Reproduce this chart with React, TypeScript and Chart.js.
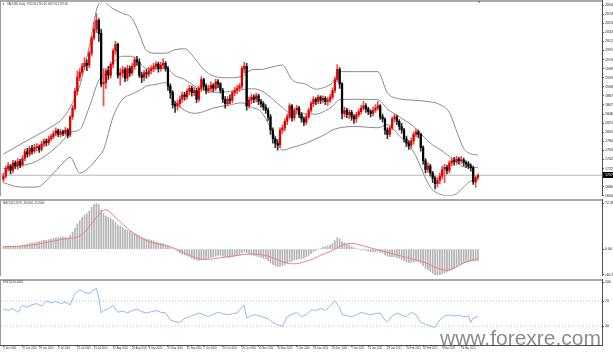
import React, { useEffect, useRef } from 'react';
import { Chart, registerables } from 'chart.js';

Chart.register(...registerables);

const FONT = '"Liberation Sans", Arial, sans-serif';
Chart.defaults.font.family = FONT;

// ---------- price data (XAUUSD daily) ----------
const opens = [
  1698,1705,1722,1728,1718,1735,1728,1738,1731,1745,
  1760,1755,1768,1762,1770,1771,1766,1778,1785,1781,
  1790,1795,1802,1808,1800,1806,1803,1810,1798,1840,
  1860,1898,1930,1942,1955,1962,1958,1985,2020,2040,
  2060,2030,1915,1918,1945,1935,1960,1990,2005,1935,
  1940,1947,1928,1950,1940,1955,1970,1965,1935,1930,
  1940,1938,1945,1950,1955,1960,1950,1958,1962,1950,
  1910,1895,1868,1865,1870,1880,1890,1886,1898,1905,
  1895,1900,1880,1905,1925,1910,1900,1905,1912,1905,
  1920,1915,1900,1880,1870,1880,1878,1895,1900,1905,
  1910,1950,1955,1865,1878,1885,1880,1888,1875,1870,
  1862,1855,1840,1810,1790,1780,1776,1810,1815,1830,
  1840,1865,1838,1855,1860,1845,1835,1828,1840,1855,
  1870,1880,1875,1885,1878,1882,1875,1878,1885,1900,
  1925,1948,1915,1848,1855,1845,1850,1840,1835,1845,
  1852,1860,1865,1858,1852,1848,1855,1860,1865,1840,
  1835,1810,1800,1815,1835,1840,1830,1818,1810,1790,
  1780,1775,1785,1800,1806,1800,1770,1740,1720,1728,
  1712,1700,1688,1695,1705,1720,1725,1718,1735,1740,
  1738,1744,1740,1742,1736,1733,1728,1724,1692,1702,
];
const highs = [
  1712,1728,1736,1732,1741,1740,1745,1743,1752,1766,
  1768,1773,1775,1778,1779,1776,1785,1790,1790,1796,
  1800,1808,1815,1812,1811,1810,1816,1813,1843,1866,
  1905,1944,1950,1962,1975,1970,1990,2024,2056,2075,
  2064,2040,1950,1950,1955,1965,1995,2012,2008,1950,
  1955,1952,1958,1956,1962,1976,1978,1972,1942,1946,
  1948,1953,1957,1962,1966,1965,1964,1972,1966,1955,
  1915,1900,1875,1878,1888,1897,1896,1904,1912,1910,
  1907,1905,1910,1932,1928,1915,1912,1920,1916,1926,
  1925,1918,1905,1886,1886,1890,1900,1907,1912,1916,
  1955,1965,1962,1885,1892,1890,1894,1892,1880,1875,
  1868,1860,1845,1815,1795,1788,1815,1822,1836,1846,
  1870,1868,1860,1866,1864,1850,1840,1846,1860,1875,
  1886,1884,1890,1888,1888,1886,1884,1892,1906,1930,
  1959,1952,1918,1862,1860,1856,1855,1845,1850,1858,
  1866,1875,1870,1862,1856,1862,1868,1875,1868,1846,
  1838,1815,1820,1840,1846,1844,1834,1825,1814,1796,
  1786,1792,1806,1812,1810,1803,1774,1745,1735,1732,
  1716,1705,1702,1712,1728,1732,1730,1740,1746,1748,
  1750,1748,1750,1746,1740,1738,1733,1728,1705,1710,
];
const lows = [
  1692,1700,1716,1710,1712,1722,1720,1724,1727,1740,
  1748,1750,1755,1757,1763,1759,1762,1772,1774,1776,
  1785,1790,1797,1795,1794,1797,1798,1792,1795,1834,
  1856,1890,1922,1935,1948,1945,1952,1978,2015,2032,
  2012,1908,1865,1905,1925,1928,1952,1982,1928,1912,
  1930,1920,1922,1932,1935,1948,1957,1930,1918,1922,
  1928,1932,1938,1943,1948,1942,1944,1950,1944,1900,
  1882,1860,1850,1855,1862,1873,1878,1880,1890,1887,
  1888,1872,1875,1898,1902,1892,1895,1898,1897,1900,
  1906,1894,1872,1860,1865,1870,1872,1888,1893,1898,
  1905,1940,1855,1860,1870,1872,1874,1868,1862,1855,
  1848,1832,1800,1780,1770,1764,1770,1802,1808,1822,
  1835,1830,1832,1848,1838,1828,1820,1822,1835,1850,
  1863,1868,1870,1870,1872,1868,1866,1872,1880,1895,
  1920,1905,1835,1840,1838,1836,1832,1825,1828,1840,
  1846,1855,1850,1845,1840,1842,1850,1855,1834,1828,
  1800,1790,1795,1810,1828,1822,1810,1802,1782,1772,
  1766,1768,1778,1795,1792,1762,1732,1712,1714,1705,
  1690,1676,1680,1688,1698,1690,1710,1712,1728,1730,
  1732,1733,1734,1728,1725,1722,1716,1686,1680,1697,
];
const closes = [
  1705,1722,1728,1718,1735,1728,1738,1731,1745,1760,
  1755,1768,1762,1770,1771,1766,1778,1785,1781,1790,
  1795,1802,1808,1800,1806,1803,1810,1798,1840,1860,
  1898,1930,1942,1955,1962,1958,1985,2020,2040,2060,
  2030,1915,1918,1945,1935,1960,1990,2005,1935,1940,
  1947,1928,1950,1940,1955,1970,1965,1935,1930,1940,
  1938,1945,1950,1955,1960,1950,1958,1962,1950,1910,
  1895,1868,1865,1870,1880,1890,1886,1898,1905,1895,
  1900,1880,1905,1925,1910,1900,1905,1912,1905,1920,
  1915,1900,1880,1870,1880,1878,1895,1900,1905,1910,
  1950,1955,1865,1878,1885,1880,1888,1875,1870,1862,
  1855,1840,1810,1790,1780,1776,1810,1815,1830,1840,
  1865,1838,1855,1860,1845,1835,1828,1840,1855,1870,
  1880,1875,1885,1878,1882,1875,1878,1885,1900,1925,
  1948,1915,1848,1855,1845,1850,1840,1835,1845,1852,
  1860,1865,1858,1852,1848,1855,1860,1865,1840,1835,
  1810,1800,1815,1835,1840,1830,1818,1810,1790,1780,
  1775,1785,1800,1806,1800,1770,1740,1720,1728,1712,
  1700,1688,1695,1705,1720,1725,1718,1735,1740,1738,
  1744,1740,1742,1736,1733,1728,1724,1692,1702,1707,
];

// ---------- Bollinger bands (read points) ----------
const bandIdx = [
  0,7,14,20,25,28,32,36,40,42,
  46,50,54,57,60,64,68,72,76,80,
  84,88,94,100,104,108,113,117,121,127,
  131,135,138,141,148,157,161,166,172,179,
  183,187,190,193,196,199,
];
const bandUpper = [
  1755,1777,1798,1817,1837,1862,1910,2000,2097,2101,
  2086,2076,2064,2029,1991,1985,1985,1993,1995,1975,
  1948,1933,1929,1932,1947,1948,1954,1958,1925,1914,
  1903,1908,1918,1943,1943,1943,1895,1881,1878,1874,
  1868,1850,1808,1768,1756,1753,
];
const bandMiddle = [
  1722,1728,1739,1761,1786,1805,1811,1862,1923,1933,
  1963,1978,1978,1964,1950,1950,1951,1934,1925,1911,
  1900,1896,1897,1902,1904,1900,1880,1861,1847,1847,
  1846,1854,1864,1879,1880,1879,1858,1840,1818,1780,
  1766,1750,1737,1726,1725,1724,
];
const bandLower = [
  1690,1680,1680,1706,1735,1748,1712,1725,1750,1765,
  1840,1880,1892,1900,1910,1914,1918,1875,1855,1848,
  1852,1860,1866,1872,1862,1852,1805,1764,1770,1780,
  1790,1800,1810,1815,1818,1815,1822,1797,1760,1680,
  1664,1660,1665,1680,1694,1696,
];

// ---------- MACD(12,26,9) ----------
const macdHist = [
  4,4,5,5,4,5,5,5,6,7,
  8,9,10,10,11,12,13,14,14,15,
  16,17,18,18,19,19,19,18,22,27,
  33,40,45,50,54,56,60,66,70,72,
  70,62,56,52,50,48,46,42,38,36,
  34,31,30,28,26,25,23,21,19,17,
  16,15,14,13,11,10,9,8,7,5,
  3,1,0,-3,-6,-8,-9,-10,-12,-14,
  -16,-17,-18,-17,-16,-15,-14,-13,-12,-11,
  -10,-10,-11,-12,-13,-13,-12,-11,-10,-9,
  -6,-3,-6,-8,-9,-10,-11,-12,-13,-14,
  -15,-18,-21,-24,-26,-28,-27,-26,-24,-22,
  -20,-19,-17,-16,-15,-15,-14,-12,-10,-7,
  -4,-2,0,1,3,4,5,7,9,13,
  18,16,12,10,8,6,4,2,1,0,
  -1,-1,-2,-3,-4,-4,-4,-3,-5,-6,
  -9,-11,-12,-12,-12,-13,-14,-16,-18,-20,
  -21,-21,-20,-19,-20,-22,-26,-30,-32,-35,
  -38,-40,-41,-40,-39,-37,-36,-34,-32,-30,
  -27,-25,-24,-22,-21,-20,-19,-19,-19,-18,
];
const signalIdx = [
  0,8,16,24,28,31,34,37,40,43,
  47,54,61,68,72,77,82,86,90,94,
  98,102,106,110,114,118,122,126,130,134,
  138,142,146,150,154,158,162,166,170,174,
  178,182,186,190,194,199,
];
const signalVal = [
  4,5,9,15,17,19,27,40,54,62,
  50,27,12,6,1,-8,-15,-16,-14,-12,
  -10,-8,-8,-10,-15,-21,-23,-20,-15,-8,
  -2,6,9,6,2,-2,-6,-10,-14,-18,
  -23,-30,-33,-28,-20,-15,
];
const macdTicks = [72.3651, 0, -40.2735];
const macdTickLabels = ['72.3651', '0.00', '-40.2735'];

// ---------- RSI(14) ----------
const rsiIdx = [
  0,2,4,6,8,10,12,14,16,18,
  20,22,24,26,28,30,32,34,36,38,
  39,40,41,42,44,46,48,50,52,54,
  56,58,60,62,64,66,68,70,72,74,
  76,78,80,82,84,86,88,90,92,94,
  96,98,100,101,102,103,105,107,109,111,
  113,115,117,119,121,123,125,127,129,131,
  133,135,137,139,141,142,144,146,148,150,
  152,154,156,158,160,161,163,165,167,169,
  171,173,175,177,179,181,183,185,187,189,
  191,193,195,196,197,199,
];
const rsiVal = [
  57,55,58,52,63,60,64,66,62,70,
  67,69,66,68,64,82,88,84,82,88,
  90,75,51,55,58,63,52,54,51,55,
  57,53,51,53,55,52,51,40,37,36,
  42,45,48,51,48,45,49,52,50,48,
  50,51,60,63,43,45,48,47,44,42,
  36,32,30,45,49,52,45,48,56,55,
  58,55,62,70,60,48,47,45,48,52,
  50,48,50,51,40,37,46,51,48,45,
  52,48,36,33,30,28,40,46,48,46,
  47,45,46,36,43,45,
];
const rsiLevels = [70, 30];
const rsiTicks = [100, 70, 30];
const rsiTickLabels = ['100', '70', '30'];

// ---------- axes ----------
const priceTicks = [
  2094.8, 2074.1, 2053.4, 2032.7, 2012.0, 1991.3, 1970.6, 1949.9, 1929.2, 1908.5,
  1887.8, 1867.1, 1846.4, 1825.7, 1805.0, 1784.3, 1763.6, 1742.9, 1722.2, 1680.8, 1660.1,
];
const dateIdx = [
  0,8,15,23,31,38,46,54,61,69,77,84,92,100,107,115,123,130,138,146,153,161,169,176,184,192,
];
const dateLabels = [
  '5 Jun 2020','17 Jun 2020','29 Jun 2020','9 Jul 2020','21 Jul 2020','31 Jul 2020',
  '12 Aug 2020','24 Aug 2020','3 Sep 2020','15 Sep 2020','25 Sep 2020','7 Oct 2020',
  '19 Oct 2020','29 Oct 2020','10 Nov 2020','20 Nov 2020','2 Dec 2020','14 Dec 2020',
  '24 Dec 2020','7 Jan 2021','19 Jan 2021','29 Jan 2021','10 Feb 2021','22 Feb 2021',
  '4 Mar 2021','16 Mar 2021',
];

const X_MIN = -1;
const X_MAX = 251;
const CANVAS_W = 640;
const AXIS_W = 38;
const RED = '#e00000';
const BLACK = '#000000';

const N = closes.length;
const barIdx = closes.map((_, i) => i);

function dateAxis(show: boolean): any {
  return {
    type: 'linear',
    min: X_MIN,
    max: X_MAX,
    offset: false,
    display: show,
    afterBuildTicks: (s: any) => {
      s.ticks = dateIdx.map((v) => ({ value: v }));
    },
    afterFit: (s: any) => {
      s.height = show ? 8 : 0;
    },
    grid: { display: true, drawOnChartArea: false, drawTicks: true, tickLength: 2, color: '#777', offset: false },
    border: { display: false },
    ticks: {
      autoSkip: false,
      maxRotation: 0,
      minRotation: 0,
      align: 'start',
      padding: 0,
      color: '#333',
      font: { size: 2.6, family: FONT },
      callback: (_v: any, i: number) => dateLabels[i] ?? '',
    },
  };
}

function valueAxis(min: number, max: number, ticks: number[], labels: string[]): any {
  return {
    type: 'linear',
    position: 'right',
    min,
    max,
    afterBuildTicks: (s: any) => {
      s.ticks = ticks.map((v) => ({ value: v }));
    },
    afterFit: (s: any) => {
      s.width = AXIS_W;
    },
    grid: { display: true, drawOnChartArea: false, drawTicks: true, tickLength: 2, color: '#555' },
    border: { display: false },
    ticks: {
      autoSkip: false,
      padding: 1,
      color: '#222',
      font: { size: 3.6, family: FONT },
      callback: (_v: any, i: number) => labels[i] ?? '',
    },
  };
}

const framePlugin = {
  id: 'panelFrame',
  afterDraw(chart: any, _args: any, opts: any) {
    const { ctx, chartArea: a } = chart;
    ctx.save();
    ctx.fillStyle = '#a8a8a8';
    ctx.fillRect(0, 0, a.right + 1, 2);
    ctx.fillStyle = '#9a9a9a';
    ctx.fillRect(0, 0, 1, a.bottom);
    ctx.fillStyle = '#505050';
    ctx.fillRect(a.right, 0, 1, a.bottom + (opts && opts.bottomLine ? 1 : 0));
    if (opts && opts.bottomLine) {
      ctx.fillRect(0, a.bottom, a.right, 1);
    }
    ctx.restore();
  },
};

const priceBoxPlugin = {
  id: 'priceBox',
  afterDraw(chart: any) {
    const { ctx, chartArea: a } = chart;
    const last = closes[N - 1];
    const y = Math.round(chart.scales.y.getPixelForValue(last));
    ctx.save();
    ctx.fillStyle = '#000';
    ctx.fillRect(a.right + 1, y - 3, 30, 6);
    ctx.fillStyle = '#fff';
    ctx.font = `3.6px ${FONT}`;
    ctx.textBaseline = 'middle';
    ctx.fillText(last.toFixed(2), a.right + 3, y + 0.3);
    ctx.restore();
  },
};

const common: any = {
  responsive: false,
  animation: false,
  events: [],
  plugins: { legend: { display: false }, tooltip: { enabled: false } },
};

function Tiny({ x, y, text, color = '#333' }: { x: number; y: number; text: string; color?: string }) {
  return (
    <div
      style={{
        position: 'absolute',
        left: x,
        top: y,
        fontFamily: FONT,
        fontSize: 9,
        lineHeight: '9px',
        color,
        whiteSpace: 'pre',
        transform: 'scale(0.3)',
        transformOrigin: '0 0',
      }}
    >
      {text}
    </div>
  );
}

export default function App() {
  const mainRef = useRef<HTMLCanvasElement>(null);
  const macdRef = useRef<HTMLCanvasElement>(null);
  const rsiRef = useRef<HTMLCanvasElement>(null);

  useEffect(() => {
    const charts: Chart[] = [];
    const line = (data: any[], color: string, extra: any = {}) => ({
      type: 'line',
      data,
      borderColor: color,
      borderWidth: 1,
      pointRadius: 0,
      fill: false,
      ...extra,
    });

    charts.push(
      new Chart(mainRef.current as HTMLCanvasElement, {
        type: 'bar',
        data: {
          datasets: [
            {
              type: 'bar',
              data: barIdx.map((i) => ({ x: i, y: [opens[i], closes[i]] })),
              backgroundColor: (c: any) => (closes[c.dataIndex] >= opens[c.dataIndex] ? RED : BLACK),
              barThickness: 1.6,
              grouped: false,
              minBarLength: 1,
              order: 1,
            },
            {
              type: 'bar',
              data: barIdx.map((i) => ({ x: i, y: [lows[i], highs[i]] })),
              backgroundColor: (c: any) => (closes[c.dataIndex] >= opens[c.dataIndex] ? '#f04a4a' : '#333333'),
              barThickness: 1,
              grouped: false,
              order: 2,
            },
            line(bandIdx.map((x, k) => ({ x, y: bandUpper[k] })), '#8a8a8a', { cubicInterpolationMode: 'monotone', order: 3 }),
            line(bandIdx.map((x, k) => ({ x, y: bandMiddle[k] })), '#8a8a8a', { cubicInterpolationMode: 'monotone', order: 3 }),
            line(bandIdx.map((x, k) => ({ x, y: bandLower[k] })), '#8a8a8a', { cubicInterpolationMode: 'monotone', order: 3 }),
            line(
              [
                { x: X_MIN, y: closes[N - 1] },
                { x: X_MAX, y: closes[N - 1] },
              ],
              '#b4b4b4',
              { order: 5 }
            ),
          ] as any,
        },
        options: {
          ...common,
          layout: { padding: { top: 1, left: 1, right: 0, bottom: 0 } },
          scales: {
            x: dateAxis(false),
            y: valueAxis(1660, 2099, priceTicks, priceTicks.map((v) => v.toFixed(2))),
          },
          plugins: { ...common.plugins, panelFrame: { bottomLine: false } },
        } as any,
        plugins: [framePlugin, priceBoxPlugin],
      } as any)
    );

    charts.push(
      new Chart(macdRef.current as HTMLCanvasElement, {
        type: 'bar',
        data: {
          datasets: [
            {
              type: 'bar',
              data: barIdx.map((i) => ({ x: i, y: macdHist[i] })),
              backgroundColor: '#b4b4b4',
              barThickness: 1,
              grouped: false,
              order: 2,
            },
            line(signalIdx.map((x, k) => ({ x, y: signalVal[k] })), '#ee8080', { tension: 0.4, order: 1 }),
          ] as any,
        },
        options: {
          ...common,
          layout: { padding: { top: 2, left: 1, right: 0, bottom: 0 } },
          scales: {
            x: dateAxis(false),
            y: valueAxis(-42, 74, macdTicks, macdTickLabels),
          },
          plugins: { ...common.plugins, panelFrame: { bottomLine: false } },
        } as any,
        plugins: [framePlugin],
      } as any)
    );

    charts.push(
      new Chart(rsiRef.current as HTMLCanvasElement, {
        type: 'line',
        data: {
          datasets: [
            line(rsiIdx.map((x, k) => ({ x, y: rsiVal[k] })), '#8fbbea', { order: 1 }),
            ...rsiLevels.map((lv) =>
              line(
                [
                  { x: X_MIN, y: lv },
                  { x: X_MAX, y: lv },
                ],
                '#c4c4c4',
                { borderDash: [1, 2], order: 2 }
              )
            ),
          ] as any,
        },
        options: {
          ...common,
          layout: { padding: { top: 2, left: 1, right: 0, bottom: 0 } },
          scales: {
            x: dateAxis(true),
            y: valueAxis(0, 100, rsiTicks, rsiTickLabels),
          },
          plugins: { ...common.plugins, panelFrame: { bottomLine: true } },
        } as any,
        plugins: [framePlugin],
      } as any)
    );

    return () => charts.forEach((c) => c.destroy());
  }, []);

  const title = `XAUUSD,Daily  ${opens[N - 1].toFixed(2)} ${highs[N - 1].toFixed(2)} ${lows[N - 1].toFixed(2)} ${closes[N - 1].toFixed(2)}`;
  const macdTitle = `MACD(12,26,9) ${macdHist[N - 1].toFixed(4)} ${signalVal[signalVal.length - 1].toFixed(4)}`;
  const rsiTitle = `RSI(14) ${rsiVal[rsiVal.length - 1].toFixed(4)}`;

  return (
    <div
      style={{
        position: 'fixed',
        left: 0,
        top: 0,
        width: 613,
        height: 353,
        overflow: 'hidden',
        background: '#fff',
      }}
    >
      <canvas ref={mainRef} width={CANVAS_W} height={199} style={{ position: 'absolute', left: 0, top: 0 }} />
      <canvas ref={macdRef} width={CANVAS_W} height={80} style={{ position: 'absolute', left: 0, top: 199 }} />
      <canvas ref={rsiRef} width={CANVAS_W} height={74} style={{ position: 'absolute', left: 0, top: 279 }} />
      <Tiny x={2} y={2.5} text="▼" color="#222" />
      <Tiny x={7} y={2.5} text={title} />
      <Tiny x={477.5} y={0.5} text="▼" color="#222" />
      <Tiny x={3} y={201.5} text={macdTitle} />
      <Tiny x={3} y={281} text={rsiTitle} />
      <div
        style={{
          position: 'absolute',
          left: 440,
          top: 327,
          fontFamily: FONT,
          fontSize: 21,
          lineHeight: '21px',
          color: '#8c8c8c',
          whiteSpace: 'pre',
        }}
      >
        www.forexre.com
      </div>
    </div>
  );
}
